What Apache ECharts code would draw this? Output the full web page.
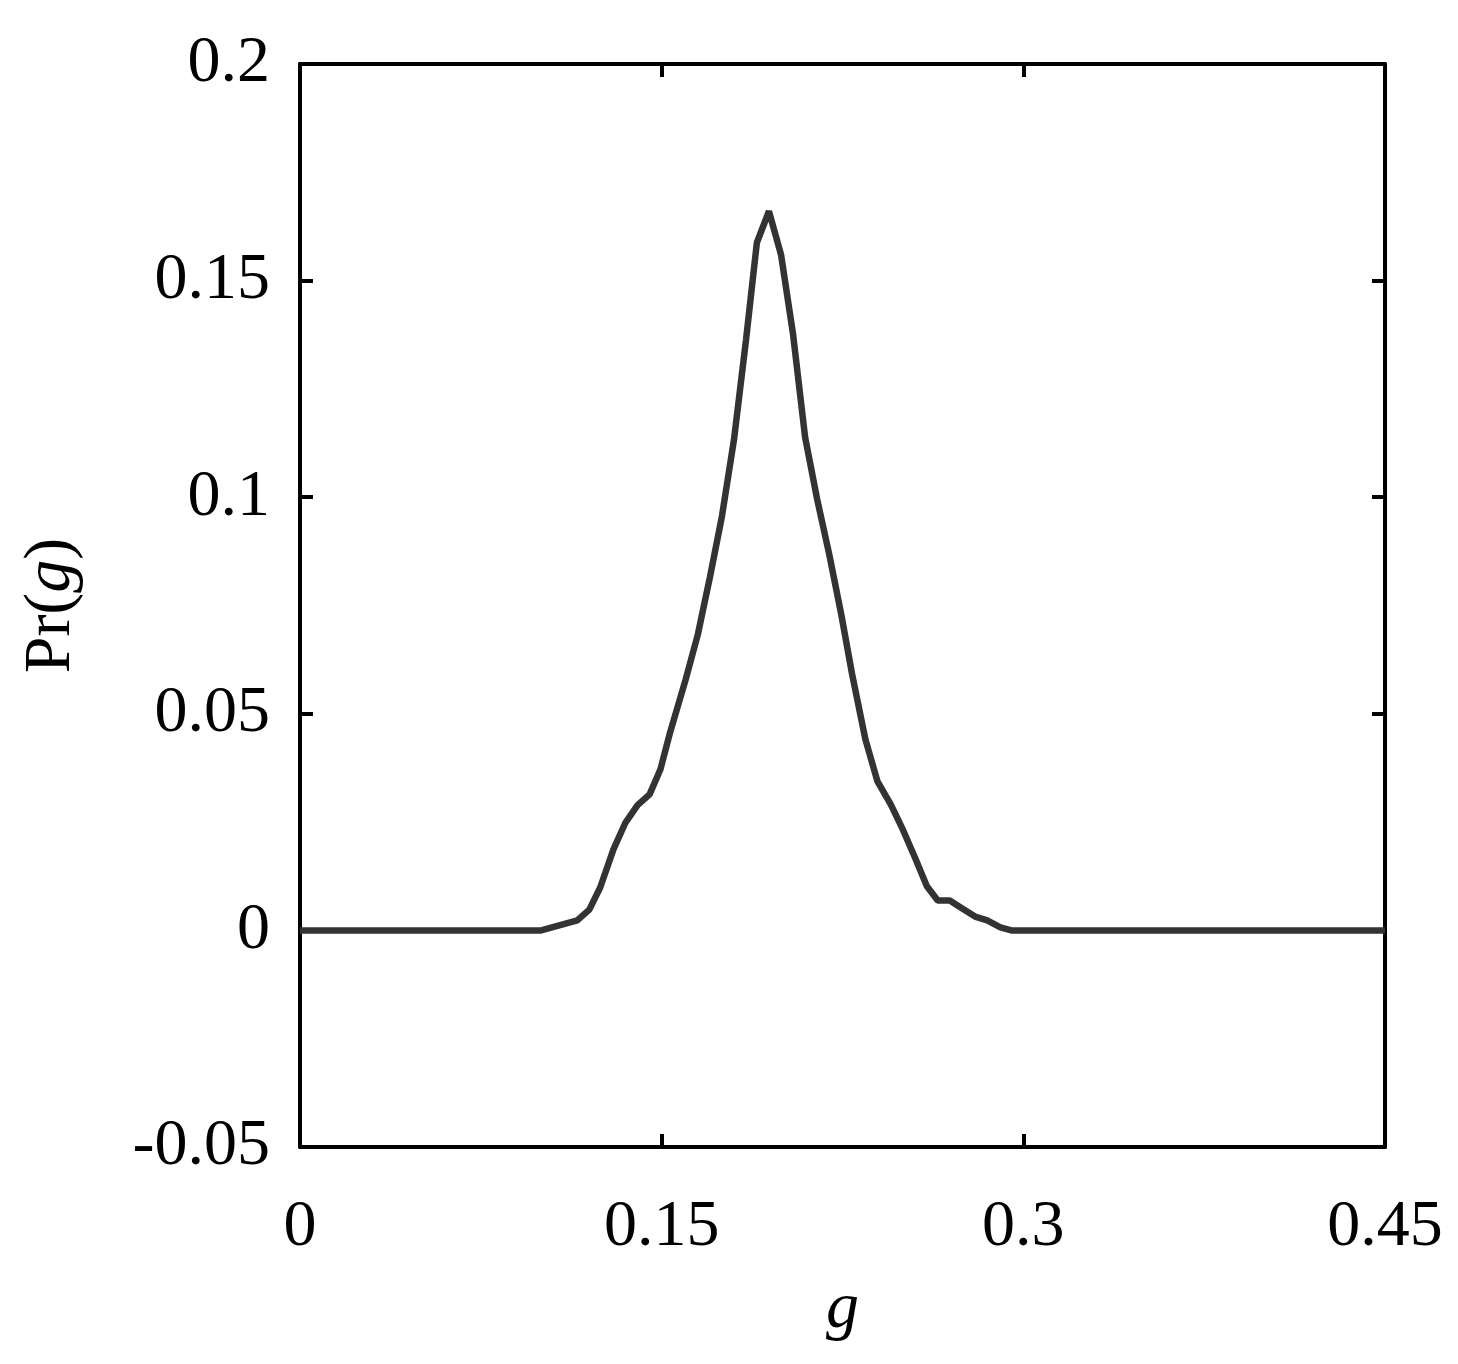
<!DOCTYPE html>
<html>
<head>
<meta charset="utf-8">
<script src="https://cdn.jsdelivr.net/npm/echarts@6/dist/echarts.min.js"></script>
<style>
  html, body { margin: 0; padding: 0; background: #fff; }
  #chart { width: 1458px; height: 1364px; }
</style>
</head>
<body>
<div id="chart"></div>
<script>
// g values and Pr(g)
const gValues = [
  0, 0.1, 0.115, 0.12, 0.1245, 0.13, 0.135, 0.14, 0.145, 0.1495,
  0.1535, 0.16, 0.165, 0.17, 0.175, 0.18, 0.185, 0.1895, 0.1945, 0.1995,
  0.2045, 0.2095, 0.2145, 0.2195, 0.2245, 0.229, 0.2345, 0.2395, 0.245, 0.25,
  0.255, 0.26, 0.2645, 0.2695, 0.2745, 0.28, 0.285, 0.2905, 0.295, 0.45
]
const prValues = [
  0, 0, 0.0023, 0.0048, 0.0099, 0.0187, 0.0249, 0.0289, 0.0314, 0.0372,
  0.0457, 0.058, 0.0683, 0.0815, 0.0956, 0.1133, 0.1364, 0.1588, 0.166, 0.156,
  0.1376, 0.1138, 0.0995, 0.0868, 0.0729, 0.0591, 0.0441, 0.0344, 0.0291, 0.0233,
  0.0169, 0.0102, 0.0069, 0.0069, 0.0051, 0.0032, 0.0023, 0.0007, 0, 0
]
const xTicks = { min: 0, max: 0.45, interval: 0.15 }
const yTicks = { min: -0.05, max: 0.2, interval: 0.05 }

const font = 'Liberation Serif'
const points = gValues.map((g, i) => [g, prValues[i]])

const axisLine = { show: true, onZero: false, lineStyle: { color: '#000', width: 4 } }
const axisTick = { show: true, inside: true, length: 13, lineStyle: { color: '#000', width: 4 } }

const chart = echarts.init(document.getElementById('chart'))
chart.setOption({
  animation: false,
  backgroundColor: '#fff',
  grid: { left: 300, right: 73, top: 64, bottom: 217 },
  xAxis: [
    {
      type: 'value',
      min: xTicks.min,
      max: xTicks.max,
      interval: xTicks.interval,
      axisLine: axisLine,
      axisTick: axisTick,
      splitLine: { show: false },
      axisLabel: { fontFamily: font, fontSize: 66, color: '#000', margin: 48 },
      name: 'g',
      nameLocation: 'middle',
      nameGap: 130,
      nameTextStyle: { fontFamily: font, fontSize: 66, fontStyle: 'italic', color: '#000' }
    },
    {
      type: 'value',
      position: 'top',
      min: xTicks.min,
      max: xTicks.max,
      interval: xTicks.interval,
      axisLine: axisLine,
      axisTick: axisTick,
      splitLine: { show: false },
      axisLabel: { show: false }
    }
  ],
  yAxis: [
    {
      type: 'value',
      min: yTicks.min,
      max: yTicks.max,
      interval: yTicks.interval,
      axisLine: axisLine,
      axisTick: axisTick,
      splitLine: { show: false },
      axisLabel: { fontFamily: font, fontSize: 66, color: '#000', margin: 30 },
      name: '{a|Pr(}{b|g}{a|)}',
      nameLocation: 'middle',
      nameGap: 215,
      nameTextStyle: {
        fontFamily: font,
        fontSize: 66,
        color: '#000',
        rich: {
          a: { fontFamily: font, fontSize: 66, color: '#000' },
          b: { fontFamily: font, fontSize: 66, color: '#000', fontStyle: 'italic' }
        }
      }
    },
    {
      type: 'value',
      position: 'right',
      min: yTicks.min,
      max: yTicks.max,
      interval: yTicks.interval,
      axisLine: axisLine,
      axisTick: axisTick,
      splitLine: { show: false },
      axisLabel: { show: false }
    }
  ],
  series: [
    {
      type: 'line',
      data: points,
      showSymbol: false,
      lineStyle: { color: '#333333', width: 6.5 },
      z: 1
    }
  ]
})
</script>
</body>
</html>
